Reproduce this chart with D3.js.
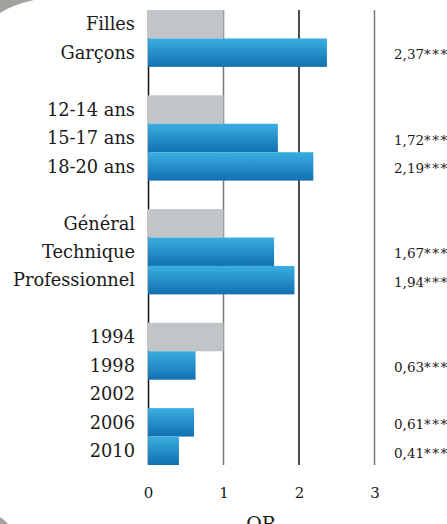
<!DOCTYPE html>
<html><head><meta charset="utf-8">
<script src="https://cdn.jsdelivr.net/npm/d3@7"></script>
<style>
html,body{margin:0;padding:0;background:#fff;overflow:hidden;}
svg{display:block;}
text{font-family:"DejaVu Serif",serif;fill:#1a1a1a;}
</style></head>
<body>
<svg id="chart" width="447" height="524"></svg>
<script>
// Rows (blank strings = spacer rows)
const categories = ["Filles","Garçons","","12-14 ans","15-17 ans","18-20 ans","","Général","Technique","Professionnel","","1994","1998","2002","2006","2010"];
// OR values (null = no bar; reference rows = 1)
const values = [1, 2.37, null, 1, 1.72, 2.19, null, 1, 1.67, 1.94, null, 1, 0.63, null, 0.61, 0.41];
const isReference = [true,false,false,true,false,false,false,true,false,false,false,true,false,false,false,false];
const valueLabels = ["","2,37***","","","1,72***","2,19***","","","1,67***","1,94***","","","0,63***","","0,61***","0,41***"];
const tickValues = [0,1,2,3];
const axisTitle = "OR";

const svg = d3.select("#chart");
const W = 447, H = 524;
const margin = {left:148, top:10, bottom:59};
const x = d3.scaleLinear().domain([0,3]).range([148, 374.5]);
const y = d3.scaleBand().domain(d3.range(categories.length)).range([margin.top, H - margin.bottom]).padding(0);

// decorative frame corners
svg.append("path").attr("d","M0,0 L34,0 Q12,5 0,13 Z").attr("fill","#a3a39e");
svg.append("path").attr("d","M0,517 Q5,520 8,524 L0,524 Z").attr("fill","#a3a39e");

const defs = svg.append("defs");
const grad = defs.append("linearGradient").attr("id","blueGrad").attr("x1",0).attr("y1",0).attr("x2",0).attr("y2",1);
grad.append("stop").attr("offset","0%").attr("stop-color","#3aaee0");
grad.append("stop").attr("offset","100%").attr("stop-color","#1170b1");

const y0 = y.range()[0], y1 = y.range()[1];
// grid lines
svg.selectAll("line.grid").data(tickValues.slice(1)).enter().append("line")
  .attr("class","grid")
  .attr("x1",d=>x(d)).attr("x2",d=>x(d))
  .attr("y1",y0).attr("y2",y1)
  .attr("stroke",d=>d===2?"#111":"#777")
  .attr("stroke-width",1.5);
// zero axis
svg.append("line").attr("x1",x(0)+0.5).attr("x2",x(0)+0.5).attr("y1",y0).attr("y2",y1)
  .attr("stroke","#111").attr("stroke-width",1.5);

// bars
const rows = categories.map((c,i)=>({c,i,v:values[i],ref:isReference[i],lab:valueLabels[i]}));
svg.selectAll("rect.bar").data(rows.filter(d=>d.v!==null)).enter().append("rect")
  .attr("class","bar")
  .attr("x",x(0))
  .attr("y",d=>y(d.i))
  .attr("width",d=>x(d.v)-x(0))
  .attr("height",y.bandwidth())
  .attr("fill",d=>d.ref?"#c2c5c7":"url(#blueGrad)");

// category labels
svg.selectAll("text.cat").data(rows.filter(d=>d.c)).enter().append("text")
  .attr("class","cat")
  .attr("x",135)
  .attr("y",d=>y(d.i)+y.bandwidth()/2)
  .attr("dy","0.35em")
  .attr("text-anchor","end")
  .attr("font-size",17.8)
  .text(d=>d.c);

// value labels (number + significance stars)
const vals = svg.selectAll("text.val").data(rows.filter(d=>d.lab)).enter().append("text")
  .attr("class","val")
  .attr("x",394)
  .attr("y",d=>y(d.i)+y.bandwidth()/2+2)
  .attr("dy","0.35em")
  .attr("font-size",13.5);
vals.append("tspan").text(d=>d.lab.replace(/\*+$/,""));
vals.append("tspan").attr("letter-spacing","1.5").text(d=>(d.lab.match(/\*+$/)||[""])[0]);

// x axis tick labels
const axis = d3.axisBottom(x).tickValues(tickValues).tickSize(0).tickPadding(0).tickFormat(d3.format("d"));
const gAxis = svg.append("g").attr("transform",`translate(0,${487})`).call(axis);
gAxis.select(".domain").remove();
gAxis.selectAll("text").attr("font-size",15).attr("fill","#1a1a1a").style("font-family","DejaVu Serif, serif");

svg.append("text").attr("x",(x(0)+x(3))/2).attr("y",530).attr("text-anchor","middle")
  .attr("font-size",19).text(axisTitle);
</script>
</body></html>
